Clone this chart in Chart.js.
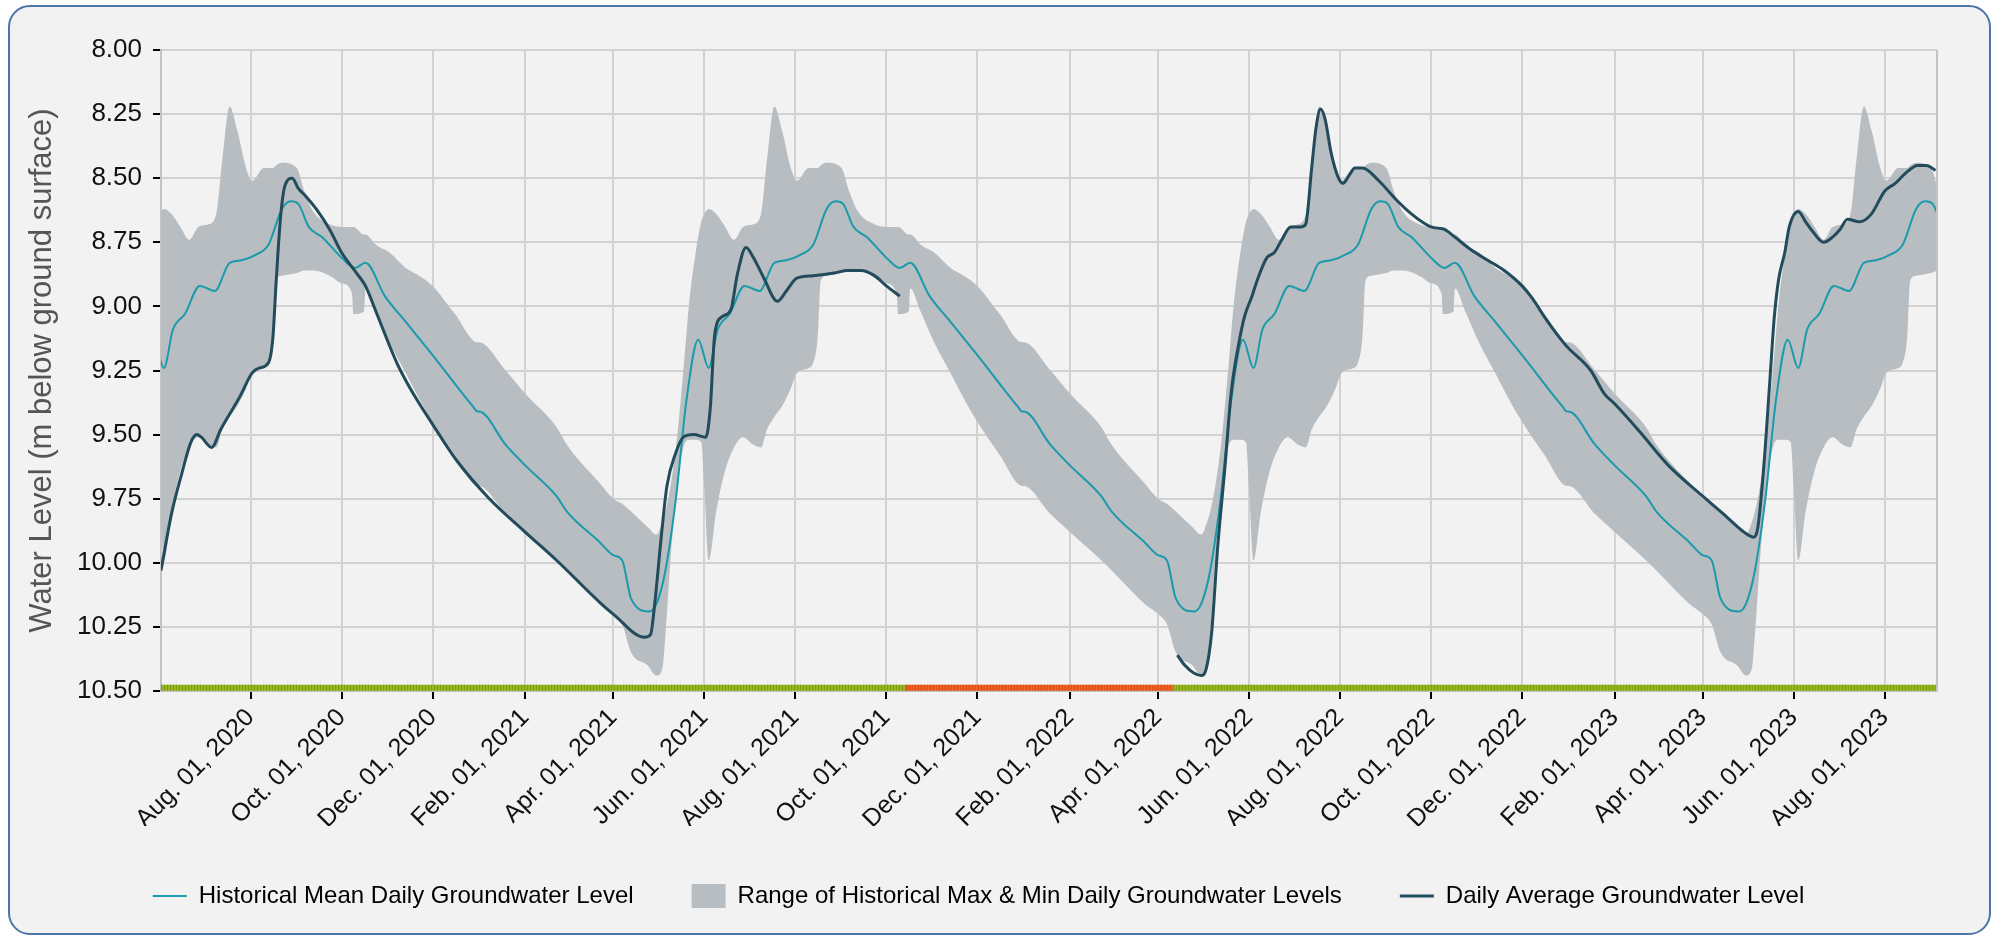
<!DOCTYPE html>
<html>
<head>
<meta charset="utf-8">
<script src="https://cdn.jsdelivr.net/npm/chart.js@4.4.1/dist/chart.umd.min.js"></script>
<style>
  html, body { margin: 0; padding: 0; background: #fff; }
  #frame { position: absolute; left: 8px; top: 5px; width: 1979px; height: 926px; border: 2px solid #4a76a6; border-radius: 22px; background: #f2f2f2; }
  #wrap { position: absolute; left: 0; top: 0; width: 1999px; height: 938px; }
</style>
</head>
<body>
<div id="frame"></div>
<div id="wrap"><canvas id="gwChart"></canvas></div>
<script>
// Historical statistics by day of year (MM-DD), same for every year
const meanDays = ['01-01','01-19','02-01','02-22','03-01','03-23','04-01','04-07','04-13','04-25','04-30','05-06','05-13','05-20','05-28','06-04','06-10','06-18','06-28','07-08','07-18','07-26','08-04','08-13','08-22','08-28','09-02','09-09','09-18','10-01','10-10','10-17','10-30','11-13','12-01','12-28','12-31'];
const meanLevels = [9.41, 9.54, 9.62, 9.74, 9.80, 9.92, 9.97, 9.99, 10.14, 10.19, 10.16, 10.03, 9.75, 9.37, 9.13, 9.24, 9.09, 9.03, 8.92, 8.94, 8.83, 8.82, 8.80, 8.76, 8.62, 8.59, 8.60, 8.69, 8.73, 8.81, 8.85, 8.83, 8.96, 9.06, 9.19, 9.39, 9.41];

const rangeDays = ['01-01','01-19','02-01','02-22','03-01','03-23','04-01','04-07','04-13','04-24','04-30','05-04','05-06','05-10','05-14','05-18','05-22','05-26','05-30','06-01','06-04','06-09','06-15','06-21','06-27','07-04','07-09','07-13','07-18','07-23','07-29','08-02','08-10','08-13','08-16','08-18','08-22','09-01','09-06','09-12','09-23','10-01','10-08','10-09','10-16','10-17','10-24','11-02','11-13','11-22','12-01','12-16','12-31'];
const rangeMax = [9.14, 9.25, 9.34, 9.47, 9.54, 9.69, 9.75, 9.77, 9.80, 9.86, 9.89, 9.84, 9.80, 9.68, 9.50, 9.25, 8.98, 8.80, 8.67, 8.64, 8.62, 8.64, 8.69, 8.74, 8.69, 8.68, 8.64, 8.43, 8.22, 8.31, 8.46, 8.51, 8.46, 8.46, 8.46, 8.45, 8.44, 8.46, 8.55, 8.63, 8.68, 8.69, 8.69, 8.69, 8.72, 8.72, 8.76, 8.79, 8.85, 8.88, 8.92, 9.03, 9.14];
const rangeMin = [9.70, 9.81, 9.88, 9.99, 10.03, 10.16, 10.20, 10.24, 10.35, 10.40, 10.44, 10.41, 10.28, 9.94, 9.70, 9.55, 9.52, 9.52, 9.53, 9.70, 9.99, 9.80, 9.64, 9.55, 9.51, 9.54, 9.55, 9.48, 9.43, 9.39, 9.32, 9.26, 9.24, 9.22, 9.12, 8.90, 8.88, 8.87, 8.86, 8.86, 8.88, 8.91, 8.95, 9.03, 9.02, 8.93, 9.02, 9.14, 9.26, 9.36, 9.45, 9.58, 9.70];
const climYears = [2020, 2021, 2022, 2023];

// Daily average groundwater level (null = no data)
const obsDates = ['2020-06-02','2020-06-09','2020-06-16','2020-06-22','2020-06-26','2020-06-29','2020-07-06','2020-07-12','2020-07-25','2020-08-02','2020-08-07','2020-08-13','2020-08-16','2020-08-18','2020-08-21','2020-08-24','2020-08-29','2020-09-02','2020-09-07','2020-09-14','2020-09-23','2020-10-01','2020-10-11','2020-10-17','2020-10-24','2020-11-07','2020-11-16','2020-12-01','2020-12-17','2021-01-08','2021-02-01','2021-02-22','2021-03-24','2021-04-01','2021-04-22','2021-04-26','2021-04-29','2021-05-03','2021-05-07','2021-05-13','2021-05-18','2021-05-25','2021-06-02','2021-06-05','2021-06-08','2021-06-13','2021-06-19','2021-06-23','2021-06-29','2021-07-04','2021-07-11','2021-07-20','2021-07-26','2021-08-02','2021-08-13','2021-08-27','2021-09-05','2021-09-14','2021-09-23','2021-10-01','2021-10-10',
  '2022-01-01',
  '2022-04-14','2022-04-19','2022-04-25','2022-04-30','2022-05-03','2022-05-07','2022-05-11','2022-05-16','2022-05-20','2022-05-25','2022-05-29','2022-06-03','2022-06-07','2022-06-13','2022-06-18','2022-06-23','2022-06-29','2022-07-06','2022-07-09','2022-07-13','2022-07-16','2022-07-19','2022-07-22','2022-07-26','2022-07-31','2022-08-03','2022-08-07','2022-08-11','2022-08-16','2022-08-27','2022-09-07','2022-09-18','2022-10-01','2022-10-10','2022-10-17','2022-10-28','2022-11-08','2022-11-19','2022-12-01','2022-12-08','2022-12-17','2022-12-30','2023-01-16','2023-01-25','2023-02-01','2023-02-18','2023-03-09','2023-04-01','2023-04-15','2023-05-01','2023-05-05','2023-05-08','2023-05-12','2023-05-16','2023-05-19','2023-05-22','2023-05-26','2023-05-29','2023-06-04','2023-06-09','2023-06-14','2023-06-21','2023-06-27','2023-07-02','2023-07-07','2023-07-15','2023-07-23','2023-08-01','2023-08-08','2023-08-15','2023-08-23','2023-08-29','2023-09-04'];
const obsLevels = [10.03, 9.81, 9.65, 9.53, 9.50, 9.51, 9.55, 9.48, 9.35, 9.26, 9.24, 9.22, 9.12, 8.92, 8.66, 8.53, 8.50, 8.54, 8.57, 8.62, 8.70, 8.79, 8.87, 8.92, 9.02, 9.22, 9.32, 9.46, 9.60, 9.75, 9.88, 9.99, 10.16, 10.20, 10.29, 10.28, 10.15, 9.91, 9.70, 9.57, 9.51, 9.50, 9.51, 9.40, 9.11, 9.04, 9.01, 8.88, 8.77, 8.81, 8.89, 8.98, 8.94, 8.89, 8.88, 8.87, 8.86, 8.86, 8.88, 8.92, 8.96,
  null,
  10.36, 10.40, 10.43, 10.44, 10.42, 10.27, 9.94, 9.62, 9.34, 9.15, 9.04, 8.96, 8.89, 8.81, 8.79, 8.74, 8.69, 8.69, 8.68, 8.46, 8.30, 8.23, 8.27, 8.40, 8.50, 8.52, 8.49, 8.46, 8.46, 8.51, 8.58, 8.64, 8.69, 8.70, 8.73, 8.78, 8.82, 8.86, 8.92, 8.97, 9.05, 9.15, 9.25, 9.34, 9.38, 9.49, 9.62, 9.74, 9.81, 9.89, 9.90, 9.86, 9.62, 9.29, 9.04, 8.89, 8.79, 8.69, 8.63, 8.67, 8.71, 8.75, 8.73, 8.70, 8.66, 8.67, 8.64, 8.55, 8.52, 8.48, 8.45, 8.45, 8.47];

// Status strip along the bottom of the plot
const statusStart = ['2020-06-02', '2021-10-14', '2022-04-11'];
const statusEnd = '2023-09-05';
const statusLevel = ['normal', 'low', 'normal'];

// X axis
const xMin = '2020-06-02';
const xMax = '2023-09-05';
const tickDates = ['2020-08-01','2020-10-01','2020-12-01','2021-02-01','2021-04-01','2021-06-01','2021-08-01','2021-10-01','2021-12-01','2022-02-01','2022-04-01','2022-06-01','2022-08-01','2022-10-01','2022-12-01','2023-02-01','2023-04-01','2023-06-01','2023-08-01'];
const tickLabels = ['Aug. 01, 2020','Oct. 01, 2020','Dec. 01, 2020','Feb. 01, 2021','Apr. 01, 2021','Jun. 01, 2021','Aug. 01, 2021','Oct. 01, 2021','Dec. 01, 2021','Feb. 01, 2022','Apr. 01, 2022','Jun. 01, 2022','Aug. 01, 2022','Oct. 01, 2022','Dec. 01, 2022','Feb. 01, 2023','Apr. 01, 2023','Jun. 01, 2023','Aug. 01, 2023'];

const legendNames = ['Historical Mean Daily Groundwater Level', 'Range of Historical Max & Min Daily Groundwater Levels', 'Daily Average Groundwater Level'];

const meanColor = '#1a9aaa';
const dailyColor = '#224b5b';
const rangeColor = '#b8bdc2';
const statusColors = { normal: '#97b524', low: '#ee6426' };
const statusHatch = { normal: '#7f9c0c', low: '#d84812' };

const toMs = d => Date.UTC(+d.slice(0, 4), +d.slice(5, 7) - 1, +d.slice(8, 10));

function climPoints(days, values) {
    const pts = [];
    climYears.forEach(y => {
        days.forEach((d, i) => pts.push({ x: toMs(y + '-' + d), y: values[i] }));
    });
    return pts;
}

const dailyPoints = obsDates.map((d, i) => ({ x: toMs(d), y: obsLevels[i] }));
const stripLevel = 10.487;
const stripPoints = statusStart.concat([statusEnd]).map(d => ({ x: toMs(d), y: stripLevel }));

// right edge of the plot box
const plotBorder = {
    id: 'plotBorder',
    afterDatasetsDraw(chart) {
        const { ctx, chartArea: a } = chart;
        ctx.save();
        ctx.strokeStyle = '#c4c4c4';
        ctx.lineWidth = 2;
        ctx.beginPath();
        ctx.moveTo(a.right, a.top);
        ctx.lineTo(a.right, a.bottom);
        ctx.stroke();
        ctx.restore();
    }
};

Chart.defaults.font.family = '"Liberation Sans", Arial, sans-serif';

new Chart(document.getElementById('gwChart'), {
    type: 'line',
    data: {
        datasets: [
            {
                label: 'status hatch',
                data: stripPoints,
                borderWidth: 6,
                borderDash: [1, 2],
                pointRadius: 0,
                borderColor: statusHatch.normal,
                segment: {
                    borderColor: ctx => statusHatch[statusLevel[ctx.p0DataIndex]]
                },
                fill: false
            },
            {
                label: 'status',
                data: stripPoints,
                borderWidth: 6,
                pointRadius: 0,
                borderColor: statusColors.normal,
                segment: {
                    borderColor: ctx => statusColors[statusLevel[ctx.p0DataIndex]]
                },
                fill: false
            },
            {
                label: legendNames[2],
                data: dailyPoints,
                borderColor: dailyColor,
                borderWidth: 3,
                pointRadius: 0,
                cubicInterpolationMode: 'monotone',
                spanGaps: false,
                fill: false
            },
            {
                label: legendNames[0],
                data: climPoints(meanDays, meanLevels),
                borderColor: meanColor,
                borderWidth: 2,
                pointRadius: 0,
                cubicInterpolationMode: 'monotone',
                fill: false
            },
            {
                label: legendNames[1],
                data: climPoints(rangeDays, rangeMax),
                borderWidth: 0,
                borderColor: 'rgba(0,0,0,0)',
                backgroundColor: rangeColor,
                pointRadius: 0,
                cubicInterpolationMode: 'monotone',
                fill: '+1'
            },
            {
                label: 'min',
                data: climPoints(rangeDays, rangeMin),
                borderWidth: 0,
                borderColor: 'rgba(0,0,0,0)',
                pointRadius: 0,
                cubicInterpolationMode: 'monotone',
                fill: false
            }
        ]
    },
    options: {
        responsive: true,
        maintainAspectRatio: false,
        animation: false,
        layout: {
            padding: { left: 20, right: 62, top: 50, bottom: 20 }
        },
        plugins: {
            tooltip: { enabled: false },
            legend: {
                position: 'bottom',
                maxHeight: 113,
                labels: {
                    color: '#111',
                    font: { size: 24 },
                    usePointStyle: true,
                    pointStyleWidth: 34,
                    padding: 58,
                    generateLabels: () => [
                        { text: legendNames[0], pointStyle: 'line', strokeStyle: meanColor, fillStyle: meanColor, lineWidth: 2, datasetIndex: 3 },
                        { text: legendNames[1], pointStyle: 'rect', strokeStyle: rangeColor, fillStyle: rangeColor, lineWidth: 0, datasetIndex: 4 },
                        { text: legendNames[2], pointStyle: 'line', strokeStyle: dailyColor, fillStyle: dailyColor, lineWidth: 3, datasetIndex: 2 }
                    ]
                }
            }
        },
        scales: {
            x: {
                type: 'linear',
                min: toMs(xMin),
                max: toMs(xMax),
                afterBuildTicks: scale => {
                    scale.ticks = tickDates.map(d => ({ value: toMs(d) }));
                },
                afterFit: scale => { scale.height = 135; },
                ticks: {
                    autoSkip: false,
                    maxRotation: 45,
                    minRotation: 45,
                    padding: 4,
                    color: '#111',
                    font: { size: 25 },
                    callback: (value, index) => tickLabels[index]
                },
                grid: {
                    color: '#d2d2d2',
                    lineWidth: 2,
                    tickColor: '#000',
                    tickLength: 8,
                    tickWidth: 2
                },
                border: { color: '#c4c4c4', width: 2 }
            },
            y: {
                reverse: true,
                min: 8,
                max: 10.5,
                afterFit: scale => { scale.width = 141; },
                ticks: {
                    stepSize: 0.25,
                    padding: 11,
                    color: '#111',
                    font: { size: 26 },
                    callback: value => value.toFixed(2)
                },
                grid: {
                    color: '#d2d2d2',
                    lineWidth: 2,
                    tickColor: '#000',
                    tickLength: 8,
                    tickWidth: 2
                },
                border: { color: '#c4c4c4', width: 2 },
                title: {
                    display: true,
                    text: 'Water Level (m below ground surface)',
                    color: '#555',
                    font: { size: 31 },
                    padding: { top: 4, bottom: 0 }
                }
            }
        }
    },
    plugins: [plotBorder]
});
</script>
</body>
</html>
